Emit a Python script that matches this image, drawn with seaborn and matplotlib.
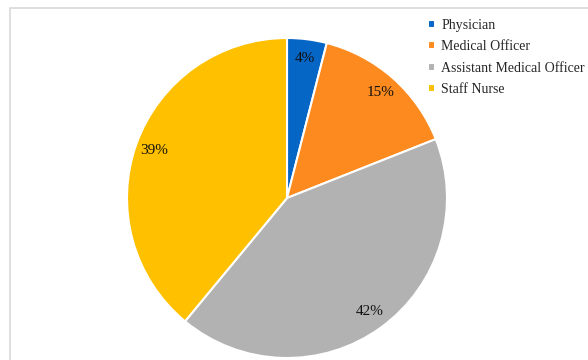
import matplotlib
matplotlib.use("Agg")
import matplotlib.pyplot as plt
import seaborn as sns
from matplotlib.patches import Rectangle

categories = ["Physician", "Medical Officer", "Assistant Medical Officer", "Staff Nurse"]
shares = [4, 15, 42, 39]
colors = ["#0566C6", "#FD8A1E", "#B2B2B2", "#FFC000"]

sns.set_theme(style="white")
plt.rcParams["font.family"] = ["Liberation Serif", "DejaVu Serif"]

fig = plt.figure(figsize=(5.88, 3.6), dpi=100)
W, H = 588, 360

# light chart-area frame, running off the right and bottom edges
fig.patches.append(Rectangle((10 / W, -0.1), 1.2, 1 - 8 / H + 0.1,
                             transform=fig.transFigure, fill=False,
                             edgecolor="#D9D9D9", linewidth=1.2))

r = 160
cx, cy = 287, 360 - 198
ax = fig.add_axes([(cx - r) / W, (cy - r) / H, 2 * r / W, 2 * r / H])
wedges, _, autotexts = ax.pie(
    shares, colors=colors, startangle=90, counterclock=False,
    autopct=lambda p: f"{p:.0f}%", pctdistance=0.88,
    wedgeprops=dict(edgecolor="white", linewidth=1.5),
    textprops=dict(fontsize=11, color="#111111"),
)
ax.set_xlim(-1, 1)
ax.set_ylim(-1, 1)
ax.set_aspect("equal")
ax.axis("off")

fig.legend(wedges, categories, loc="upper left",
           bbox_to_anchor=(428 / W, 1 - 19 / H), frameon=False,
           fontsize=10, handlelength=0.5, handleheight=0.5,
           handletextpad=0.45, labelspacing=0.6, borderaxespad=0,
           borderpad=0)

fig.savefig("out.png", dpi=100)
